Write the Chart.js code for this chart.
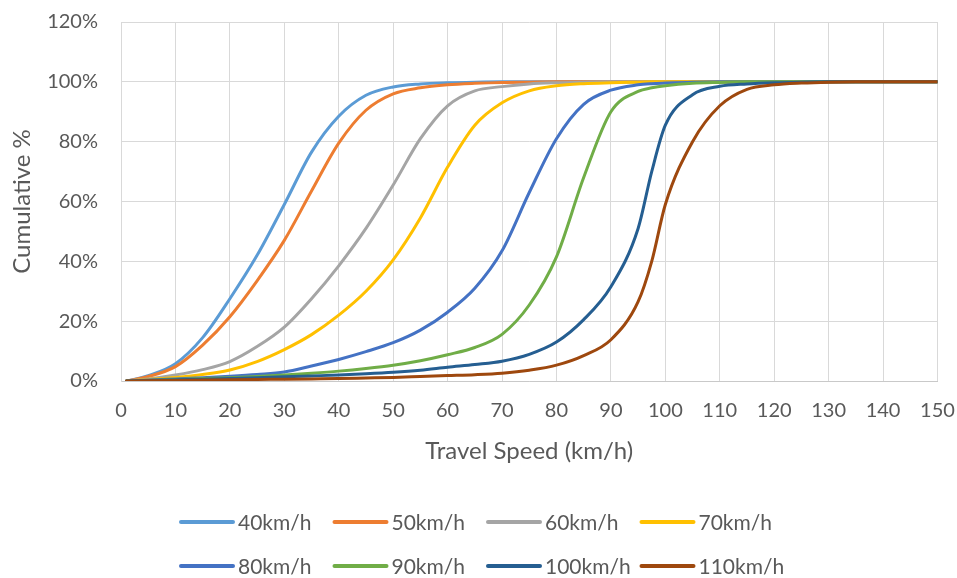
<!DOCTYPE html>
<html>
<head>
<meta charset="utf-8">
<script src="https://cdn.jsdelivr.net/npm/chart.js@4"></script>
<style>
  html, body { margin: 0; padding: 0; background: #ffffff; }
  #wrap { width: 957px; height: 578px; position: relative; }
</style>
</head>
<body>
<div id="wrap"><canvas id="c" width="957" height="578"></canvas></div>
<script>
// Travel speed (km/h) sample points shared by every curve
const speeds = [1, 5, 10, 15, 20, 25, 30, 35, 40, 45, 50, 55, 60, 65, 70, 75, 80, 85, 90, 95, 97.5,
                100, 105, 110, 115, 120, 125, 130, 135, 140, 145, 150];

// Speed-limit categories
const speedLimits = ['40km/h', '50km/h', '60km/h', '70km/h', '80km/h', '90km/h', '100km/h', '110km/h'];

// Cumulative share of vehicles (%) at or below each travel speed
const cum40 = [0, 1.8, 5.8, 14.5, 27.5, 42, 59, 76.5, 88.5, 95.5, 98.3, 99.3, 99.7, 99.9, 100, 100,
               100, 100, 100, 100, 100, 100, 100, 100, 100, 100, 100, 100, 100, 100, 100, 100];
const cum50 = [0, 1.5, 4.8, 12, 21.5, 33.5, 47, 63.5, 79.5, 90.5, 96, 98, 99, 99.5, 99.8, 99.9,
               100, 100, 100, 100, 100, 100, 100, 100, 100, 100, 100, 100, 100, 100, 100, 100];
const cum60 = [0, 0.7, 2, 3.8, 6.5, 11.5, 18, 27.5, 38.5, 51, 65.5, 81, 92, 97, 98.4, 99.3,
               99.7, 99.9, 100, 100, 100, 100, 100, 100, 100, 100, 100, 100, 100, 100, 100, 100];
const cum70 = [0, 0.5, 1.2, 2.2, 3.7, 6.5, 10.5, 15.5, 22, 30, 40.5, 54.5, 71.5, 85.5, 93, 97,
               98.7, 99.4, 99.7, 99.9, 100, 100, 100, 100, 100, 100, 100, 100, 100, 100, 100, 100];
const cum80 = [0, 0.3, 0.7, 1.1, 1.6, 2.2, 3.0, 5.0, 7.2, 9.8, 12.8, 17, 23, 31, 43.5, 63,
               81, 92.5, 97.2, 99, 99.4, 99.6, 99.9, 100, 100, 100, 100, 100, 100, 100, 100, 100];
const cum90 = [0, 0.2, 0.5, 0.8, 1.1, 1.5, 2, 2.6, 3.3, 4.2, 5.3, 6.8, 8.8, 11.2, 15.6, 25.4,
               41.5, 68, 90, 96.8, 98, 98.7, 99.5, 99.8, 100, 100, 100, 100, 100, 100, 100, 100];
const cum100 = [0, 0.2, 0.4, 0.6, 0.8, 1.1, 1.4, 1.7, 2.0, 2.4, 2.9, 3.6, 4.6, 5.5, 6.6, 8.9,
                13, 20.5, 31.5, 51, 70, 85.5, 95.7, 98.5, 99.3, 99.7, 99.9, 100, 100, 100, 100, 100];
const cum110 = [0, 0.1, 0.2, 0.3, 0.4, 0.5, 0.6, 0.7, 0.8, 1.0, 1.2, 1.5, 1.8, 2.1, 2.6, 3.6,
                5.3, 8.5, 13.8, 26.5, 40, 59, 80, 92, 97.5, 99, 99.6, 99.9, 100, 100, 100, 100];

const series = [cum40, cum50, cum60, cum70, cum80, cum90, cum100, cum110];

// Axis ticks
const speedTicks = [0, 10, 20, 30, 40, 50, 60, 70, 80, 90, 100, 110, 120, 130, 140, 150];
const percentTicks = [0, 20, 40, 60, 80, 100, 120];

const lineColors = ['#5B9BD5', '#ED7D31', '#A5A5A5', '#FFC000', '#4472C4', '#70AD47', '#255E91', '#9E480E'];
const textColor = '#595959';
const fontFamily = 'Lato, "Open Sans", sans-serif';

const datasets = series.map((vals, i) => ({
  label: speedLimits[i],
  data: vals.map((v, k) => ({ x: speeds[k], y: v })),
  borderColor: lineColors[i],
  backgroundColor: lineColors[i],
  borderWidth: 3,
  pointRadius: 0,
  fill: false,
  cubicInterpolationMode: 'monotone',
  borderCapStyle: 'round',
  borderJoinStyle: 'round',
  order: -i   // later series are painted over earlier ones
}));

// Two-row, four-column legend below the axis title
const gridLegend = {
  id: 'gridLegend',
  afterDraw(chart) {
    const ctx = chart.ctx;
    ctx.save();
    ctx.font = '21px ' + fontFamily;
    ctx.textBaseline = 'middle';
    ctx.textAlign = 'left';
    chart.data.datasets.forEach((ds, i) => {
      const col = i % 4, row = Math.floor(i / 4);
      const x = 181 + col * 153.5;
      const y = 522 + row * 44;
      ctx.strokeStyle = ds.borderColor;
      ctx.lineWidth = 4;
      ctx.lineCap = 'round';
      ctx.beginPath();
      ctx.moveTo(x, y);
      ctx.lineTo(x + 52, y);
      ctx.stroke();
      ctx.fillStyle = textColor;
      ctx.fillText(ds.label, x + 57, y + 1);
    });
    ctx.restore();
  }
};

new Chart(document.getElementById('c'), {
  type: 'line',
  data: { datasets },
  plugins: [gridLegend],
  options: {
    responsive: false,
    devicePixelRatio: 1,
    animation: false,
    layout: { padding: { left: 0, top: 22, right: 19.5, bottom: 98 } },
    plugins: {
      legend: { display: false },
      tooltip: { enabled: false }
    },
    scales: {
      x: {
        type: 'linear',
        min: 0,
        max: 150,
        afterBuildTicks(scale) { scale.ticks = speedTicks.map(v => ({ value: v })); },
        afterFit(scale) {
          scale.height = 99;
          scale.paddingLeft = 0;
          scale.paddingRight = 0;
        },
        grid: { color: '#D9D9D9', lineWidth: 1, drawTicks: false },
        border: { display: true, color: '#C9C9C9', width: 1 },
        ticks: {
          padding: 18,
          color: textColor,
          font: { family: fontFamily, size: 20 },
          maxRotation: 0,
          autoSkip: false
        },
        title: {
          display: true,
          text: 'Travel Speed (km/h)',
          color: textColor,
          font: { family: fontFamily, size: 24 },
          padding: { top: 0, bottom: 14.6 }
        }
      },
      y: {
        min: 0,
        max: 120,
        afterBuildTicks(scale) { scale.ticks = percentTicks.map(v => ({ value: v })); },
        afterFit(scale) {
          scale.width = 121;
          scale.paddingTop = 0;
          scale.paddingBottom = 0;
        },
        grid: { color: '#D9D9D9', lineWidth: 1, drawTicks: false },
        border: { display: true, color: '#D9D9D9', width: 1 },
        ticks: {
          padding: 23,
          color: textColor,
          font: { family: fontFamily, size: 20 },
          callback: v => v + '%'
        },
        title: {
          display: true,
          text: 'Cumulative %',
          color: textColor,
          font: { family: fontFamily, size: 24 },
          padding: { top: 7.6, bottom: 0 }
        }
      }
    }
  }
});
</script>
</body>
</html>
